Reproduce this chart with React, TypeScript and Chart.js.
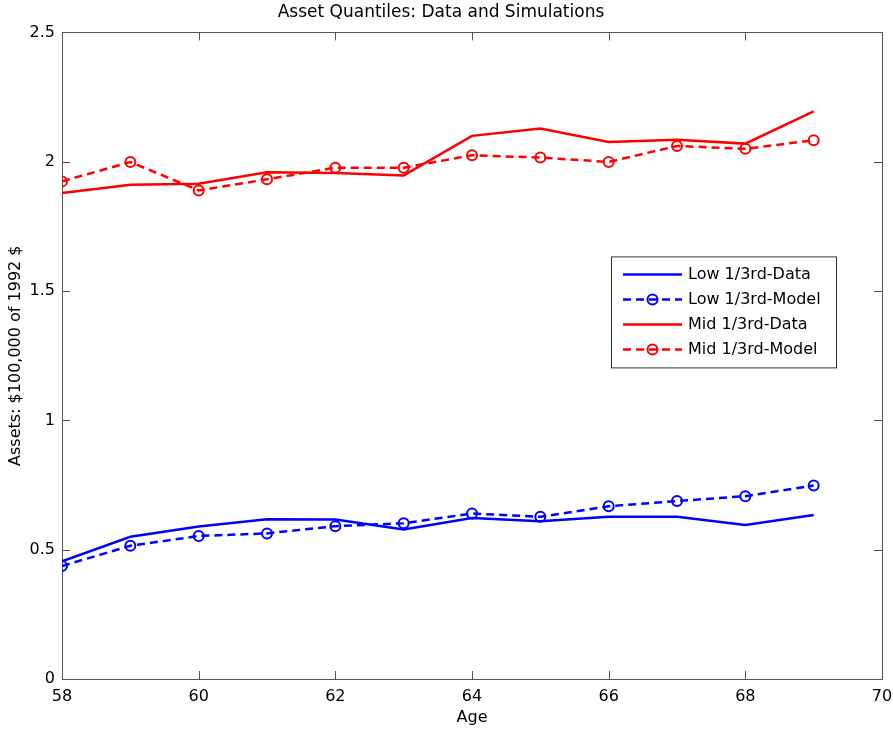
import { useEffect, useRef } from "react";
import { Chart, registerables } from "chart.js";

Chart.register(...registerables);

// Ages on the horizontal axis
const ages = [58, 59, 60, 61, 62, 63, 64, 65, 66, 67, 68, 69];

// Assets in units of $100,000 (1992 dollars)
const lowData = [0.455, 0.55, 0.59, 0.618, 0.617, 0.578, 0.622, 0.61, 0.627, 0.627, 0.595, 0.634];
const lowModel = [0.437, 0.515, 0.553, 0.563, 0.591, 0.602, 0.64, 0.627, 0.668, 0.688, 0.707, 0.748];
const midData = [1.879, 1.911, 1.915, 1.959, 1.956, 1.947, 2.1, 2.128, 2.076, 2.085, 2.07, 2.195];
const midModel = [1.924, 1.999, 1.889, 1.932, 1.977, 1.977, 2.025, 2.016, 1.999, 2.061, 2.05, 2.083];

const seriesLabels = ["Low 1/3rd-Data", "Low 1/3rd-Model", "Mid 1/3rd-Data", "Mid 1/3rd-Model"];

const xTicks = [58, 60, 62, 64, 66, 68, 70];
const yTicks = [0, 0.5, 1, 1.5, 2, 2.5];

const FONT = "'DejaVu Sans', 'Liberation Sans', Arial, sans-serif";
const BLUE = "#0000ff";
const RED = "#ff0000";

const toPoints = (vals: number[]) => vals.map((v, i) => ({ x: ages[i], y: v }));

// Box around the plot with short inward tick marks on all four sides
const framePlugin = {
  id: "frameTicks",
  beforeDatasetsDraw(chart: any) {
    const { ctx, chartArea } = chart;
    const { left, right, top, bottom } = chartArea;
    const xs = chart.scales.x;
    const ys = chart.scales.y;
    const len = 8;
    ctx.save();
    ctx.strokeStyle = "#555555";
    ctx.lineWidth = 1;
    ctx.strokeRect(Math.round(left) + 0.5, Math.round(top) + 0.5, Math.round(right - left), Math.round(bottom - top));
    ctx.beginPath();
    for (const v of xTicks) {
      const px = Math.round(xs.getPixelForValue(v)) + 0.5;
      ctx.moveTo(px, bottom);
      ctx.lineTo(px, bottom - len);
      ctx.moveTo(px, top);
      ctx.lineTo(px, top + len);
    }
    for (const v of yTicks) {
      const py = Math.round(ys.getPixelForValue(v)) + 0.5;
      ctx.moveTo(left, py);
      ctx.lineTo(left + len, py);
      ctx.moveTo(right, py);
      ctx.lineTo(right - len, py);
    }
    ctx.stroke();
    ctx.restore();
  },
};

// Boxed legend placed inside the plot area, right of centre
const boxLegendPlugin = {
  id: "boxLegend",
  afterDraw(chart: any) {
    const { ctx, chartArea } = chart;
    const bx = chartArea.left + 549;
    const by = chartArea.top + 224;
    const bw = 225;
    const bh = 111;
    ctx.save();
    ctx.fillStyle = "#ffffff";
    ctx.fillRect(bx, by, bw, bh);
    ctx.strokeStyle = "#333333";
    ctx.lineWidth = 1;
    ctx.strokeRect(bx + 0.5, by + 0.5, bw, bh);
    ctx.font = `16px ${FONT}`;
    ctx.textBaseline = "middle";
    ctx.textAlign = "left";
    chart.data.datasets.forEach((ds: any, i: number) => {
      const cy = by + 18 + i * 25;
      const x0 = bx + 12;
      const x1 = bx + 71;
      ctx.strokeStyle = ds.borderColor;
      ctx.lineWidth = ds.borderWidth;
      ctx.setLineDash(ds.borderDash || []);
      ctx.beginPath();
      ctx.moveTo(x0, cy);
      ctx.lineTo(x1, cy);
      ctx.stroke();
      ctx.setLineDash([]);
      if (ds.pointRadius > 0) {
        ctx.lineWidth = ds.pointBorderWidth;
        ctx.beginPath();
        ctx.arc((x0 + x1) / 2, cy, ds.pointRadius, 0, Math.PI * 2);
        ctx.stroke();
      }
      ctx.fillStyle = "#000000";
      ctx.fillText(ds.label, x1 + 6, cy);
    });
    ctx.restore();
  },
};

export default function App() {
  const canvasRef = useRef<HTMLCanvasElement | null>(null);

  useEffect(() => {
    document.body.style.margin = "0";
    const canvas = canvasRef.current;
    if (!canvas) return;

    const solid = (label: string, color: string, vals: number[]) => ({
      label,
      data: toPoints(vals),
      borderColor: color,
      backgroundColor: color,
      borderWidth: 2.5,
      pointRadius: 0,
      pointHoverRadius: 0,
      tension: 0,
    });
    const dashed = (label: string, color: string, vals: number[]) => ({
      label,
      data: toPoints(vals),
      borderColor: color,
      backgroundColor: color,
      borderWidth: 2.5,
      borderDash: [8, 5],
      pointRadius: 5,
      pointBorderWidth: 2,
      pointBorderColor: color,
      pointBackgroundColor: "rgba(0,0,0,0)",
      pointHoverRadius: 5,
      tension: 0,
    });

    const chart = new Chart(canvas, {
      type: "line",
      data: {
        datasets: [
          solid(seriesLabels[0], BLUE, lowData),
          dashed(seriesLabels[1], BLUE, lowModel),
          solid(seriesLabels[2], RED, midData),
          dashed(seriesLabels[3], RED, midModel),
        ],
      },
      options: {
        animation: false,
        responsive: false,
        devicePixelRatio: 1,
        layout: { padding: { top: 0, left: 0, right: 11, bottom: 0 } },
        plugins: {
          legend: { display: false },
          tooltip: { enabled: false },
          title: {
            display: true,
            text: "Asset Quantiles: Data and Simulations",
            color: "#000000",
            font: { family: FONT, size: 17, weight: "normal" },
            padding: { top: 2, bottom: 10 },
          },
        },
        scales: {
          x: {
            type: "linear",
            min: 58,
            max: 70,
            grid: { display: false, drawTicks: false },
            border: { display: false },
            ticks: {
              stepSize: 2,
              padding: 8,
              color: "#000000",
              font: { family: FONT, size: 16 },
              callback: (v: any) => String(v),
            },
            title: {
              display: true,
              text: "Age",
              color: "#000000",
              font: { family: FONT, size: 16 },
              padding: { top: 0, bottom: 3 },
            },
            afterFit: (scale: any) => {
              scale.height = 51;
              scale.paddingLeft = 0;
              scale.paddingRight = 0;
            },
          },
          y: {
            type: "linear",
            min: 0,
            max: 2.5,
            grid: { display: false, drawTicks: false },
            border: { display: false },
            ticks: {
              stepSize: 0.5,
              padding: 7,
              color: "#000000",
              font: { family: FONT, size: 16 },
              callback: (v: any) => String(v),
            },
            title: {
              display: true,
              text: "Assets: $100,000 of 1992 $",
              color: "#000000",
              font: { family: FONT, size: 16 },
              padding: { top: 6, bottom: 0 },
            },
            afterFit: (scale: any) => {
              scale.width = 62;
              scale.paddingTop = 0;
              scale.paddingBottom = 0;
            },
          },
        },
      },
      plugins: [framePlugin, boxLegendPlugin],
    });

    return () => chart.destroy();
  }, []);

  return (
    <div style={{ width: 893, height: 730, background: "#ffffff" }}>
      <canvas ref={canvasRef} width={893} height={730} style={{ display: "block" }} />
    </div>
  );
}
